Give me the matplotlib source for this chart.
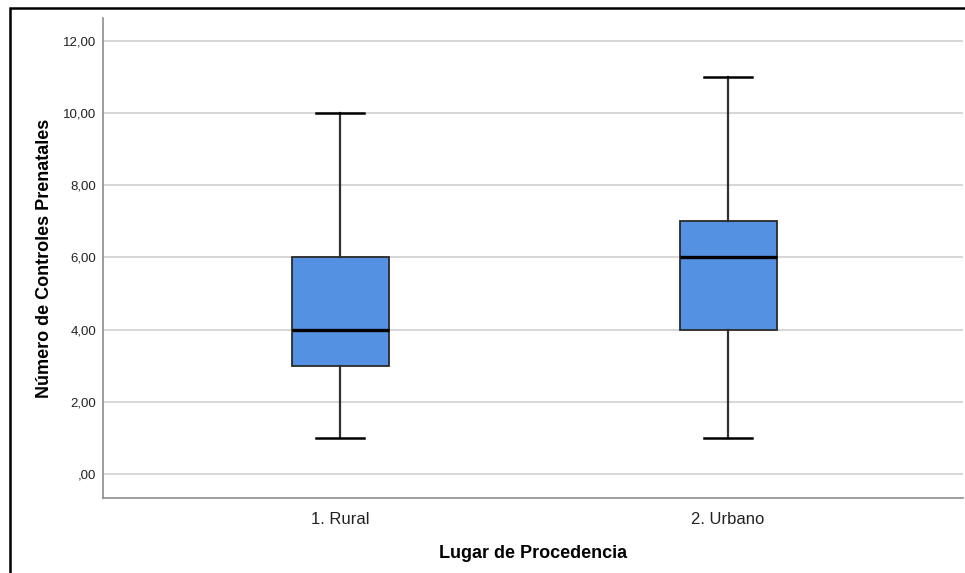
import matplotlib
matplotlib.use("Agg")
import matplotlib.pyplot as plt
from matplotlib.patches import Rectangle

categories = ["1. Rural", "2. Urbano"]
whislo = [1, 1]
q1 = [3, 4]
med = [4, 6]
q3 = [6, 7]
whishi = [10, 11]
yticks = [0, 2, 4, 6, 8, 10, 12]
yticklabels = [",00", "2,00", "4,00", "6,00", "8,00", "10,00", "12,00"]

plt.rcParams['font.family'] = ['Liberation Sans', 'DejaVu Sans']

W, H = 965, 573
fig = plt.figure(figsize=(W / 100, H / 100), dpi=100)
ax = fig.add_axes([103 / W, (H - 498) / H, (963 - 103) / W, (498 - 18) / H])

stats = []
for i, c in enumerate(categories):
    stats.append(dict(label=c, whislo=whislo[i], q1=q1[i], med=med[i],
                      q3=q3[i], whishi=whishi[i], fliers=[]))

pos = [1, 2]
ax.bxp(stats, positions=pos, widths=0.25, patch_artist=True,
       showfliers=False, capwidths=0.124,
       boxprops=dict(facecolor="#5591e3", edgecolor="#2a2a2a", linewidth=1.3),
       medianprops=dict(color="black", linewidth=2.4),
       whiskerprops=dict(color="#303030", linewidth=1.6),
       capprops=dict(color="black", linewidth=1.8), zorder=3)

ax.set_xlim(1 - 237 / 388, 2 + 235 / 388)
ax.set_ylim(-24 / 36.08, 12 + 23 / 36.08)
ax.set_yticks(yticks)
ax.set_yticklabels(yticklabels, fontsize=9.5, color="#222222")
ax.set_xticks(pos)
ax.set_xticklabels(categories, fontsize=12, color="#222222")
ax.tick_params(axis="both", length=0)
ax.tick_params(axis="y", pad=5)
ax.tick_params(axis="x", pad=10)
ax.grid(axis="y", color="#cfcfcf", linewidth=1.2, zorder=0)
ax.set_axisbelow(True)
for s in ["top", "right"]:
    ax.spines[s].set_visible(False)
for s in ["left", "bottom"]:
    ax.spines[s].set_color("#8c8c8c")
    ax.spines[s].set_linewidth(1.2)

ax.set_ylabel("Número de Controles Prenatales", fontsize=13, fontweight="bold", labelpad=7)
ax.set_xlabel("Lugar de Procedencia", fontsize=13, fontweight="bold", labelpad=13)

fig.patches.append(Rectangle((9.5 / W, -0.1), 1.2, (H - 8.5) / H + 0.1,
                             transform=fig.transFigure, fill=False,
                             edgecolor="black", linewidth=1.8))

fig.savefig("out.png", dpi=100)
